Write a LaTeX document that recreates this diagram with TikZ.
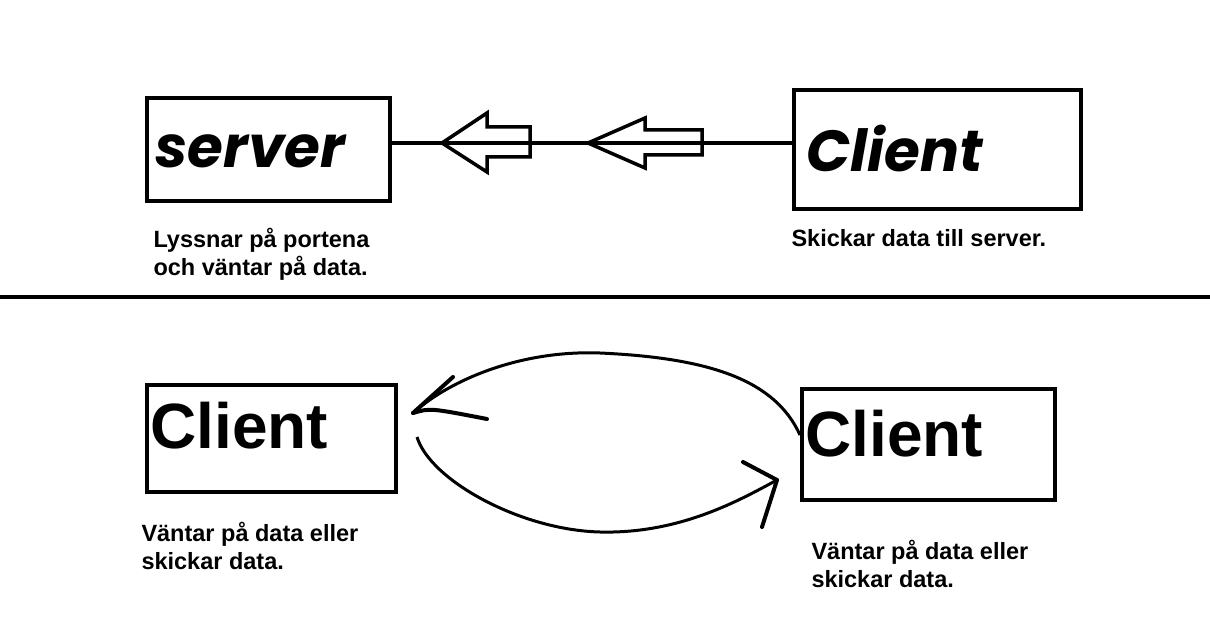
\documentclass[tikz,border=0pt]{standalone}
\usepackage{fontspec}
\setmainfont{Liberation Sans}
\newfontfamily\handfont{Poppins}
\begin{document}
\begin{tikzpicture}[x=1pt,y=-1pt,line width=3pt]
      \tikzstyle{box}=[draw,line width=4pt,inner sep=0pt];
      \tikzstyle{hand}=[anchor=base west,inner sep=0pt,font=\handfont\fontsize{58}{64}\selectfont\bfseries\itshape];
      \tikzstyle{plain}=[anchor=base west,inner sep=0pt,font=\fontsize{64}{70}\selectfont\bfseries];
      \tikzstyle{note}=[anchor=base west,inner sep=0pt,align=left,font=\fontsize{23.5}{28}\selectfont\bfseries];
      \tikzstyle{barb}=[line width=4pt,line cap=round];
      \useasboundingbox[fill=white] (0,0) rectangle (1210,631);

      % upper half: server and client
      \node[box,minimum width=243pt,minimum height=103pt] (srv) at (268.5,149.5) {};
      \node[box,minimum width=287pt,minimum height=119pt] (cli) at (937.5,149.5) {};
      \node[hand] (srvname) at (154,168) {server};
      \node[hand] (cliname) at (805,172) {Client};
      \node[note] (srvnote) at (152,275) {Lyssnar på portena\\och väntar på data.};
      \node[note] (clinote) at (790,247) {Skickar data till server.};

      \draw[line width=3.5pt] ([yshift=6.5pt]srv.east) -- ([yshift=6.5pt]cli.west);
      \draw[line width=3.5pt,line join=miter]
      (442,143) -- (487,113) -- (487,127) -- (530,127) -- (530,157) -- (487,157) -- (487,172) -- cycle;
      \draw[line width=3.5pt,line join=miter]
      (588,143) -- (645,118) -- (645,130) -- (702,130) -- (702,155) -- (645,155) -- (645,168) -- cycle;

      \draw[line width=4pt] (0,297) -- (1210,297);

      % lower half: client and client
      \node[box,minimum width=249pt,minimum height=107pt] (cl1) at (271.5,438.5) {};
      \node[box,minimum width=253pt,minimum height=111pt] (cl2) at (928.5,444.5) {};
      \node[plain] (cl1name) at (149,448) {Client};
      \node[plain] (cl2name) at (804,456) {Client};
      \node[note] (cl1note) at (140,569) {Väntar på data eller\\skickar data.};
      \node[note] (cl2note) at (810,587) {Väntar på data eller\\skickar data.};

      \coordinate (tipa) at (413,413);
      \coordinate (tailb) at (417,437);
      \coordinate (tipb) at (777,480);
      \draw ([yshift=9.5pt]cl2.west) .. controls (775,380) and (710,358) .. (600,353)
      .. controls (520,350) and (450,380) .. (tipa);
      \draw[barb] (tipa) -- (453,377);
      \draw[barb] (tipa) .. controls (430,408) .. (487,419);
      \draw (tailb) .. controls (430,480) and (520,530) .. (600,532)
      .. controls (680,534) and (740,500) .. (tipb);
      \draw[barb] (tipb) -- (743,462);
      \draw[barb] (tipb) -- (762,527);

    \end{tikzpicture}
\end{document}
